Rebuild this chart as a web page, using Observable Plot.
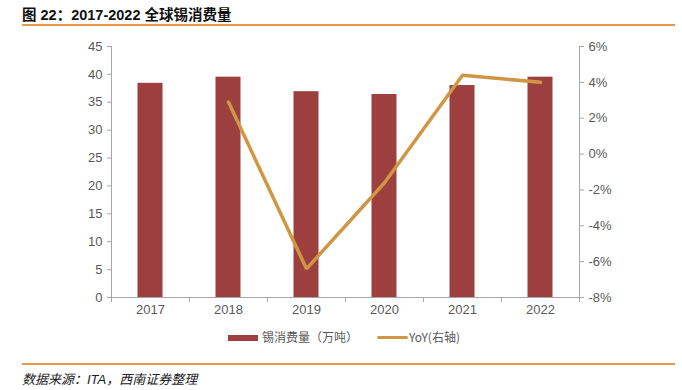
<!DOCTYPE html>
<html><head><meta charset="utf-8">
<script src="https://cdn.jsdelivr.net/npm/d3@7"></script>
<script src="https://cdn.jsdelivr.net/npm/@observablehq/plot@0.6"></script>
<style>
body{margin:0;background:#fff;}
#wrap{position:relative;width:682px;height:390px;font-family:"Liberation Sans","Noto Sans CJK SC",sans-serif;}
#title{position:absolute;left:22px;top:3px;font-size:14.5px;font-weight:bold;color:#111;font-family:"Liberation Sans","Noto Sans CJK SC",sans-serif;}
.rule{position:absolute;left:22px;width:653px;height:0;border-top:2px solid #e39a4c;}
#chart{position:absolute;left:0;top:30px;}
#legend{position:absolute;top:328px;left:0;width:682px;font-size:12px;color:#595959;font-family:"Noto Sans CJK SC",sans-serif;}
.sw{position:absolute;}
#source{position:absolute;left:22px;top:369px;font-size:13px;font-style:italic;color:#222;font-family:"Liberation Sans","Noto Sans CJK SC",sans-serif;}
</style></head>
<body>
<div id="wrap">
  <div id="title">图 22：2017-2022 全球锡消费量</div>
  <div class="rule" style="top:24px"></div>
  <div id="chart"></div>
  <div id="legend">
    <div class="sw" style="left:228px;top:7px;width:30px;height:6px;background:#9c3f3e"></div>
    <div class="sw" style="left:262px;top:0px;">锡消费量（万吨）</div>
    <div class="sw" style="left:377px;top:8px;width:31px;height:3px;background:#cf9644;border-radius:2px"></div>
    <div class="sw" style="left:409px;top:0px;">YoY(右轴)</div>
  </div>
  <div class="rule" style="top:363px"></div>
  <div id="source">数据来源：ITA，西南证券整理</div>
</div>
<script>
const years = ["2017","2018","2019","2020","2021","2022"];
const consumption = [38.4, 39.5, 36.9, 36.4, 38.0, 39.5];
const yoy = [null, 2.9, -6.4, -1.6, 4.4, 4.0];
const leftTicks = [0,5,10,15,20,25,30,35,40,45];
const rightTicks = [-8,-6,-4,-2,0,2,4,6];

const data = years.map((y,i)=>({year:y, value:consumption[i], yoy:yoy[i]}));
const toLeft = v => (v + 8) * 45 / 14;
const fromLeft = d => Math.round(d * 14 / 45 - 8);

const W = 682, H = 290, ML = 111, MR = 103;
const bw = (W - ML - MR) / years.length;
const axisColor = "#a6a6a6", textColor = "#595959";

const chart = Plot.plot({
  width: W, height: H,
  marginLeft: ML, marginRight: MR, marginTop: 16, marginBottom: 23,
  style: {fontFamily: "Liberation Sans, Arial, sans-serif", fontSize: "13px", color: textColor, background: "#fff"},
  x: {type: "band", domain: years, padding: 0, axis: null},
  y: {domain: [0, 45], axis: null},
  marks: [
    Plot.barY(data, {x: "year", y: "value", fill: "#9c3f3e", insetLeft: 26.5, insetRight: 26.5}),
    Plot.lineY(data.filter(d => d.yoy != null), {x: "year", y: d => toLeft(d.yoy), stroke: "#cf9644", strokeWidth: 3.5, strokeLinecap: "round", strokeLinejoin: "miter"}),
    Plot.ruleY([0], {stroke: axisColor}),
    Plot.frame({anchor: "left", stroke: axisColor}),
    Plot.frame({anchor: "right", stroke: axisColor}),
    Plot.axisY(leftTicks, {anchor: "left", tickSize: 4, tickPadding: 5, stroke: axisColor, fill: textColor, label: null}),
    Plot.axisY(rightTicks.map(toLeft), {anchor: "right", tickSize: 4, tickPadding: 5, stroke: axisColor, fill: textColor, label: null, tickFormat: d => fromLeft(d) + "%"}),
    Plot.axisX({tickSize: 0, tickPadding: 7, fill: textColor, label: null}),
    Plot.axisX(years, {tickSize: 5, fill: "none", stroke: axisColor, dx: -bw/2, label: null}),
    Plot.axisX([years[years.length-1]], {tickSize: 5, fill: "none", stroke: axisColor, dx: bw/2, label: null})
  ]
});
document.getElementById("chart").appendChild(chart);
</script>
</body></html>
